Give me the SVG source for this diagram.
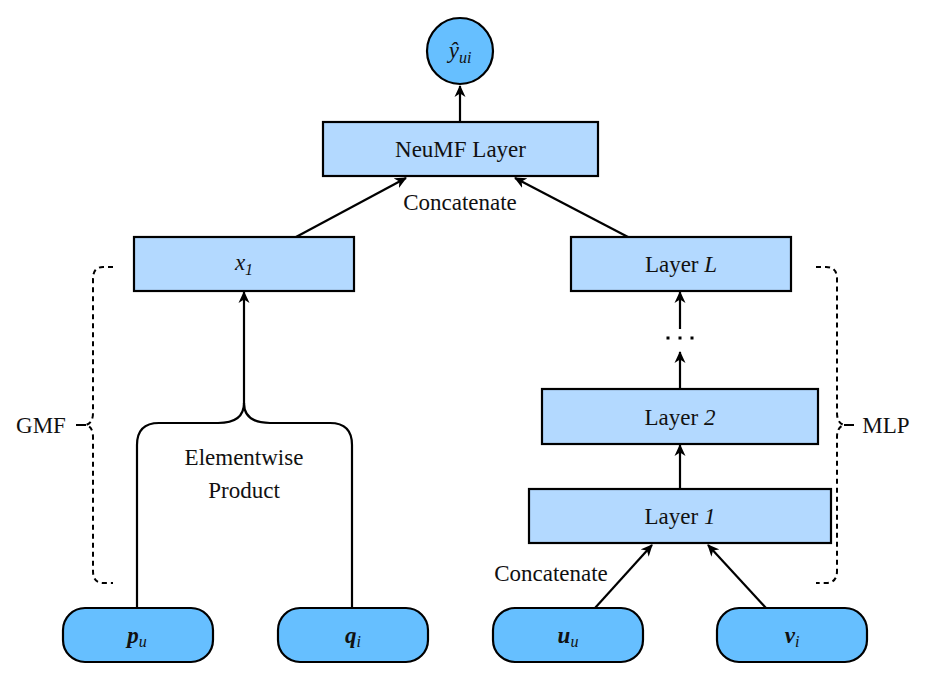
<svg xmlns="http://www.w3.org/2000/svg" width="932" height="685" viewBox="0 0 932 685" font-family="Liberation Serif, Times New Roman, serif">
<style>
  .box { fill: #b3d9ff; stroke: #000; stroke-width: 2.2; }
  .io { fill: #66bfff; stroke: #000; stroke-width: 2.2; }
  .t { font-family: 'Liberation Serif', serif; font-size: 23px; fill: #111; text-anchor: middle; }
  .it { font-style: italic; }
  .sub { font-size: 16px; font-style: italic; }
  .conn { fill: none; stroke: #000; stroke-width: 2.2; }
  .brace { fill: none; stroke: #000; stroke-width: 2; stroke-dasharray: 5 4; }
</style>
<defs>
  <marker id="arr" viewBox="0 0 12 12" refX="11" refY="6" markerWidth="12" markerHeight="12" markerUnits="userSpaceOnUse" orient="auto">
    <path d="M12,6 L0,0.5 L3.5,6 L0,11.5 Z" fill="#000"/>
  </marker>
</defs>
<rect width="932" height="685" fill="#fff"/>

<g id="connectors">
  <line class="conn" x1="460" y1="122" x2="460" y2="86" marker-end="url(#arr)"/>
  <line class="conn" x1="296" y1="237" x2="406" y2="178" marker-end="url(#arr)"/>
  <line class="conn" x1="628" y1="237" x2="515" y2="178" marker-end="url(#arr)"/>
  <path class="conn" d="M137,608 V445 Q137,423 159,423 H218 Q244,423 244,403 Q244,423 270,423 H330 Q352,423 352,445 V608"/>
  <line class="conn" x1="244" y1="404" x2="244" y2="292" marker-end="url(#arr)"/>
  <line class="conn" x1="680" y1="489" x2="680" y2="445" marker-end="url(#arr)"/>
  <line class="conn" x1="680" y1="389" x2="680" y2="352" marker-end="url(#arr)"/>
  <line class="conn" x1="680" y1="329" x2="680" y2="292" marker-end="url(#arr)"/>
  <line class="conn" x1="595" y1="608" x2="652" y2="545" marker-end="url(#arr)"/>
  <line class="conn" x1="766" y1="608" x2="708" y2="545" marker-end="url(#arr)"/>
  <rect x="666.5" y="336.5" width="3" height="3" fill="#000"/>
  <rect x="678.5" y="336.5" width="3" height="3" fill="#000"/>
  <rect x="690.5" y="336.5" width="3" height="3" fill="#000"/>
</g>

<g id="gmf-brace">
  <path class="brace" d="M113,267 H103 Q93,267 93,279 V413 Q93,423 86,425 Q93,427 93,437 V571 Q93,583 103,583 H113"/>
  <line x1="76" y1="425" x2="86" y2="425" stroke="#000" stroke-width="2"/>
  <text class="t" x="41" y="433">GMF</text>
</g>

<g id="mlp-brace">
  <path class="brace" d="M816,267 H826 Q837,267 837,279 V413 Q837,423 844,425 Q837,427 837,437 V571 Q837,583 826,583 H816"/>
  <line x1="844" y1="425" x2="854" y2="425" stroke="#000" stroke-width="2"/>
  <text class="t" x="886" y="433">MLP</text>
</g>

<g id="output">
  <circle class="io" cx="460" cy="51" r="33"/>
  <text class="t" x="460" y="58"><tspan class="it">ŷ</tspan><tspan class="sub" dy="5">ui</tspan></text>
</g>

<g id="neumf">
  <rect class="box" x="323" y="122" width="275" height="54"/>
  <text class="t" x="460.5" y="157">NeuMF Layer</text>
</g>

<text class="t" x="460" y="210">Concatenate</text>

<g id="x1">
  <rect class="box" x="134" y="237" width="220" height="54"/>
  <text class="t" x="244" y="270"><tspan class="it">x</tspan><tspan class="sub" dy="5">1</tspan></text>
</g>

<g id="layerL">
  <rect class="box" x="571" y="237" width="220" height="54"/>
  <text class="t" x="681" y="272">Layer <tspan class="it">L</tspan></text>
</g>

<g id="layer2">
  <rect class="box" x="542" y="389" width="276" height="55"/>
  <text class="t" x="680" y="424.5">Layer <tspan class="it">2</tspan></text>
</g>

<g id="layer1">
  <rect class="box" x="529" y="489" width="302" height="54"/>
  <text class="t" x="680" y="524">Layer <tspan class="it">1</tspan></text>
</g>

<text class="t" x="244" y="465">Elementwise</text>
<text class="t" x="244" y="498">Product</text>
<text class="t" x="551" y="581">Concatenate</text>

<g id="pu">
  <rect class="io" x="63" y="608" width="150" height="54" rx="22" ry="22"/>
  <text class="t" x="137" y="643"><tspan font-weight="bold" font-style="italic">p</tspan><tspan class="sub" dy="4">u</tspan></text>
</g>
<g id="qi">
  <rect class="io" x="278" y="608" width="150" height="54" rx="22" ry="22"/>
  <text class="t" x="353" y="643"><tspan font-weight="bold" font-style="italic">q</tspan><tspan class="sub" dy="4">i</tspan></text>
</g>
<g id="uu">
  <rect class="io" x="493" y="608" width="150" height="54" rx="22" ry="22"/>
  <text class="t" x="568" y="643"><tspan font-weight="bold" font-style="italic">u</tspan><tspan class="sub" dy="4">u</tspan></text>
</g>
<g id="vi">
  <rect class="io" x="717" y="608" width="150" height="54" rx="22" ry="22"/>
  <text class="t" x="792" y="643"><tspan font-weight="bold" font-style="italic">v</tspan><tspan class="sub" dy="4">i</tspan></text>
</g>
</svg>
